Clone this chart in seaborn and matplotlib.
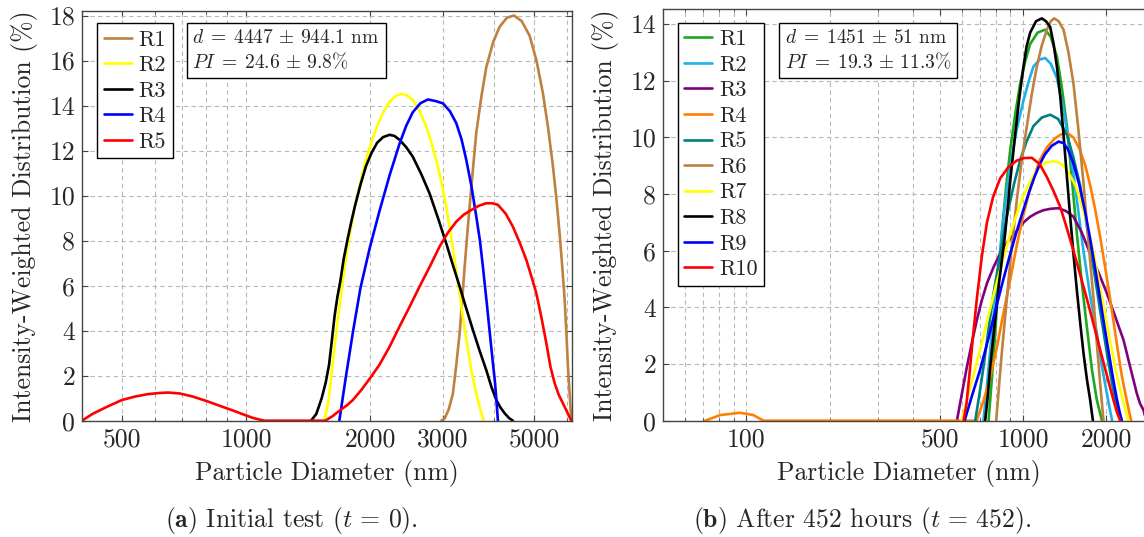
import matplotlib
matplotlib.use("Agg")
import matplotlib.pyplot as plt
import seaborn as sns
from matplotlib.ticker import FixedLocator, FixedFormatter, NullFormatter

# ---- data: initial test (t = 0) ----
t0_labels = ["R1", "R2", "R3", "R4", "R5"]
t0_colors = ["#BF8040", "#FFFF00", "#000000", "#0000FF", "#FF0000"]

t0_r1_d = [2974, 3030, 3100, 3173, 3230, 3295, 3340, 3387, 3435, 3483, 3550, 3616, 3720, 3823, 3970, 4119,
           4290, 4461, 4660, 4870, 5060, 5245, 5400, 5548, 5660, 5758, 5840, 5921, 5980, 6032, 6090, 6146]
t0_r1_v = [0, 0.1, 0.5, 1.2, 2.4, 3.9, 5.3, 6.8, 8.2, 9.5, 11.2, 12.8, 14.4, 15.7, 16.8, 17.5,
           17.9, 18.0, 17.75, 17.1, 16.0, 14.55, 13.0, 11.3, 9.8, 8.3, 6.9, 5.4, 3.9, 2.4, 1.2, 0]
t0_r2_d = [1543, 1565, 1585, 1625, 1673, 1710, 1744, 1790, 1837, 1895, 1954, 2015, 2079, 2145, 2212, 2295,
           2378, 2455, 2536, 2635, 2734, 2810, 2891, 2975, 3057, 3130, 3203, 3280, 3354, 3435, 3516, 3600,
           3682, 3767]
t0_r2_v = [0, 0.4, 0.92, 2.7, 4.69, 6.0, 7.19, 8.4, 9.55, 10.6, 11.6, 12.4, 13.1, 13.65, 14.1, 14.4,
           14.52, 14.45, 14.25, 13.75, 13.07, 12.4, 11.59, 10.6, 9.51, 8.35, 7.14, 5.9, 4.62, 3.4, 2.25, 1.35,
           0.62, 0]
t0_r3_d = [1437, 1480, 1525, 1560, 1589, 1615, 1640, 1665, 1691, 1725, 1763, 1800, 1837, 1895, 1954, 2015,
           2079, 2150, 2228, 2290, 2355, 2445, 2536, 2660, 2785, 2920, 3057, 3175, 3295, 3420, 3548, 3685,
           3823, 3935, 4043, 4140, 4236, 4340, 4436]
t0_r3_v = [0, 0.3, 1.0, 1.7, 2.48, 3.6, 4.69, 5.5, 6.16, 7.2, 8.08, 8.85, 9.55, 10.5, 11.32, 11.9,
           12.35, 12.6, 12.7, 12.65, 12.48, 12.15, 11.73, 10.95, 10.1, 9.0, 7.88, 6.9, 5.96, 4.98, 4.03, 3.1,
           2.25, 1.5, 0.92, 0.58, 0.33, 0.12, 0]
t0_r4_d = [1683, 1744, 1818, 1894, 1996, 2105, 2228, 2355, 2445, 2536, 2645, 2759, 2880, 3000, 3120, 3233,
           3330, 3419, 3520, 3616, 3690, 3752, 3830, 3900, 3960, 4016, 4050, 4080]
t0_r4_v = [0, 1.9, 4.0, 5.9, 7.7, 9.3, 10.9, 12.3, 13.1, 13.7, 14.1, 14.27, 14.2, 14.1, 13.75, 13.22,
           12.5, 11.59, 10.4, 9.07, 8.0, 6.84, 5.3, 3.88, 2.7, 1.66, 0.8, 0]
t0_r5_d = [400, 424, 460, 500, 540, 578, 615, 647, 690, 740, 800, 873, 930, 988, 1040, 1107, 1555, 1620,
           1700, 1760, 1815, 1900, 2000, 2105, 2230, 2355, 2490, 2634, 2790, 2945, 3085, 3233, 3370, 3516,
           3670, 3823, 3950, 4080, 4260, 4436, 4610, 4782, 4920, 5056, 5200, 5347, 5470, 5602, 5730, 5866,
           6000, 6146]
t0_r5_v = [0, 0.3, 0.62, 0.92, 1.08, 1.18, 1.23, 1.25, 1.21, 1.08, 0.88, 0.63, 0.45, 0.27, 0.12, 0, 0, 0.2,
           0.5, 0.7, 0.92, 1.35, 1.9, 2.48, 3.3, 4.18, 5.05, 5.96, 6.85, 7.73, 8.35, 8.84, 9.15, 9.36,
           9.55, 9.66, 9.66, 9.59, 9.2, 8.62, 7.9, 7.14, 6.4, 5.66, 4.6, 3.44, 2.4, 1.66, 1.15, 0.77,
           0.4, 0]

# ---- data: after 452 hours ----
t452_labels = ["R1", "R2", "R3", "R4", "R5", "R6", "R7", "R8", "R9", "R10"]
t452_colors = ["#1FA71F", "#1EB0E6", "#800080", "#FF8000", "#008080",
               "#BF8040", "#FFFF00", "#000000", "#0000FF", "#FF0000"]

t452_r1_d = [751, 772, 794, 815, 838, 868, 899, 937, 977, 1020, 1062, 1130, 1203, 1260, 1326, 1380, 1441,
             1500, 1566, 1630, 1702, 1775, 1849, 1930]
t452_r1_v = [0, 1.5, 3.1, 4.9, 6.6, 8.2, 9.55, 10.8, 11.9, 12.7, 13.3, 13.7, 13.8, 13.55, 12.85, 11.8, 10.4,
             8.6, 6.6, 4.9, 3.3, 1.8, 0.73, 0]
t452_r2_d = [720, 745, 772, 800, 827, 860, 899, 950, 1004, 1050, 1091, 1150, 1203, 1260, 1326, 1400, 1481,
             1565, 1654, 1750, 1849, 1930, 2010, 2060, 2100]
t452_r2_v = [0, 1.5, 3.1, 4.6, 6.0, 7.6, 9.0, 10.3, 11.3, 12.0, 12.5, 12.75, 12.8, 12.6, 12.1, 11.0, 9.55,
             7.8, 6.0, 4.4, 3.1, 1.9, 0.96, 0.4, 0]
t452_r3_d = [577, 600, 627, 655, 681, 710, 741, 785, 827, 885, 950, 1005, 1062, 1120, 1186, 1260, 1344, 1430,
             1522, 1630, 1749, 1880, 2010, 2150, 2308, 2440, 2579, 2650, 2725, 2790]
t452_r3_v = [0, 0.9, 1.9, 2.8, 3.55, 4.25, 4.85, 5.45, 5.9, 6.35, 6.7, 7.0, 7.2, 7.33, 7.43, 7.48, 7.5, 7.4,
             7.2, 6.65, 5.9, 5.2, 4.5, 3.7, 2.85, 1.9, 0.96, 0.6, 0.38, 0]
t452_r4_d = [71, 80.6, 95, 106, 111, 115.5, 680, 720, 760, 805, 850, 900, 950, 1000, 1050, 1100, 1150, 1220,
             1300, 1370, 1450, 1520, 1600, 1680, 1750, 1820, 1900, 1975, 2050, 2125, 2200, 2275, 2350, 2410,
             2460]
t452_r4_v = [0, 0.2, 0.28, 0.2, 0.09, 0, 0, 0.7, 1.5, 2.6, 3.8, 5.0, 6.2, 7.2, 8.0, 8.65, 9.2, 9.65,
             9.95, 10.1, 10.15, 10.0, 9.6, 9.0, 8.3, 7.5, 6.5, 5.5, 4.5, 3.5, 2.5, 1.6, 0.9, 0.4,
             0]
t452_r5_d = [672, 695, 720, 750, 783, 828, 874, 925, 977, 1030, 1091, 1170, 1254, 1340, 1441, 1520, 1609,
             1700, 1798, 1900, 2010, 2100, 2184, 2276]
t452_r5_v = [0, 0.9, 1.9, 3.2, 4.5, 5.9, 7.2, 8.3, 9.2, 9.85, 10.4, 10.7, 10.8, 10.65, 10.1, 9.3, 8.3,
             6.9, 5.4, 3.9, 2.4, 1.3, 0.5, 0]
t452_r6_d = [800, 835, 874, 910, 950, 990, 1033, 1075, 1122, 1170, 1220, 1260, 1296, 1345, 1401, 1460, 1522,
             1585, 1654, 1725, 1798, 1850, 1901, 1930, 1954]
t452_r6_v = [0, 2.2, 4.3, 6.1, 7.8, 9.2, 10.4, 11.5, 12.5, 13.25, 13.8, 14.1, 14.2, 14.1, 13.8, 13.0, 11.9,
             10.3, 8.4, 6.3, 4.3, 2.7, 1.3, 0.6, 0]
t452_r7_d = [601, 650, 700, 750, 800, 850, 900, 950, 1000, 1050, 1100, 1150, 1200, 1289, 1340, 1400, 1470,
             1550, 1620, 1700, 1775, 1850, 1925, 2000, 2075, 2150, 2225, 2300, 2350, 2405]
t452_r7_v = [0, 1.3, 2.5, 3.7, 4.8, 5.75, 6.6, 7.3, 7.9, 8.35, 8.7, 8.95, 9.1, 9.16, 9.12, 9.0, 8.7,
             8.3, 7.7, 7.0, 6.2, 5.3, 4.4, 3.5, 2.7, 1.9, 1.25, 0.7, 0.35, 0]
t452_r8_d = [730, 745, 761, 790, 820, 845, 862, 900, 937, 970, 1004, 1030, 1062, 1115, 1170, 1210, 1254, 1290,
             1326, 1365, 1401, 1440, 1481, 1525, 1566, 1610, 1654, 1700, 1749, 1770, 1790]
t452_r8_v = [0, 0.8, 1.9, 3.4, 4.9, 5.9, 6.6, 8.5, 10.1, 11.4, 12.5, 13.2, 13.7, 14.1, 14.2, 14.1, 13.9, 13.3,
             12.5, 11.4, 10.1, 8.65, 7.2, 5.8, 4.6, 3.45, 2.4, 1.5, 0.73, 0.35, 0]
t452_r9_d = [615, 655, 700, 750, 800, 850, 900, 950, 1000, 1050, 1100, 1150, 1200, 1270, 1344, 1400, 1450,
             1525, 1600, 1675, 1750, 1825, 1900, 1975, 2050, 2115, 2180, 2230, 2276]
t452_r9_v = [0, 0.9, 1.8, 2.9, 4.0, 5.0, 5.9, 6.7, 7.4, 8.05, 8.6, 9.05, 9.4, 9.7, 9.85, 9.8, 9.6,
             9.05, 8.3, 7.4, 6.4, 5.35, 4.3, 3.25, 2.3, 1.5, 0.8, 0.35, 0]
t452_r10_d = [610, 625, 640, 660, 681, 710, 741, 780, 827, 885, 950, 1010, 1076, 1150, 1220, 1290, 1363, 1440,
              1522, 1610, 1702, 1800, 1901, 2010, 2123, 2185, 2245]
t452_r10_v = [0, 0.6, 1.6, 3.0, 4.3, 5.8, 7.0, 7.9, 8.55, 8.95, 9.18, 9.27, 9.28, 9.05, 8.6, 8.1, 7.55, 6.8,
              6.0, 5.15, 4.3, 3.4, 2.5, 1.6, 0.73, 0.3, 0]

t0_series = [(t0_r1_d, t0_r1_v), (t0_r2_d, t0_r2_v), (t0_r3_d, t0_r3_v), (t0_r4_d, t0_r4_v), (t0_r5_d, t0_r5_v)]
t452_series = [(t452_r1_d, t452_r1_v), (t452_r2_d, t452_r2_v), (t452_r3_d, t452_r3_v), (t452_r4_d, t452_r4_v),
               (t452_r5_d, t452_r5_v), (t452_r6_d, t452_r6_v), (t452_r7_d, t452_r7_v), (t452_r8_d, t452_r8_v),
               (t452_r9_d, t452_r9_v), (t452_r10_d, t452_r10_v)]

# ---- style ----
sns.set_theme(style="ticks")
plt.rcParams["font.family"] = ["cmr10", "DejaVu Serif"]
plt.rcParams["mathtext.fontset"] = "cm"
plt.rcParams["axes.formatter.use_mathtext"] = True
plt.rcParams["axes.unicode_minus"] = False

TICK_FS = 18.5
LEG_FS = 16
BOX_FS = 14


def style_axis(ax, xlim, ylim, xmajor, xminor, yticks):
    ax.set_xscale("log")
    ax.set_xlim(*xlim)
    ax.set_ylim(*ylim)
    ax.xaxis.set_major_locator(FixedLocator(xmajor))
    ax.xaxis.set_major_formatter(FixedFormatter([str(x) for x in xmajor]))
    ax.xaxis.set_minor_locator(FixedLocator(xminor))
    ax.xaxis.set_minor_formatter(NullFormatter())
    ax.set_yticks(yticks)
    ax.set_yticklabels([str(y) for y in yticks])
    ax.grid(True, which="both", axis="x", color="#b8b8b8", ls=(0, (4, 3)), lw=0.8)
    ax.grid(True, which="major", axis="y", color="#b8b8b8", ls=(0, (4, 3)), lw=0.8)
    ax.tick_params(which="both", direction="in", top=True, right=True, color="#444444")
    ax.tick_params(which="major", length=4.5, width=0.8, labelsize=TICK_FS, pad=5)
    ax.tick_params(which="minor", length=2.5, width=0.6)
    for s in ax.spines.values():
        s.set_color("#444444")
        s.set_linewidth(1.0)
    ax.set_xlabel("Particle Diameter (nm)", fontsize=TICK_FS, labelpad=6)
    ax.set_ylabel("Intensity-Weighted Distribution (%)", fontsize=TICK_FS, labelpad=8)


fig = plt.figure(figsize=(11.44, 5.37), dpi=100)
ax1 = fig.add_axes([82 / 1144, 1 - 420.7 / 537, 489.7 / 1144, 409.7 / 537])
ax2 = fig.add_axes([663 / 1144, 1 - 420.7 / 537, 492 / 1144, 411.4 / 537])

for (d, v), lab, col in zip(t0_series, t0_labels, t0_colors):
    sns.lineplot(x=d, y=v, ax=ax1, color=col, lw=1.9, label=lab, estimator=None, sort=False)
for (d, v), lab, col in zip(t452_series, t452_labels, t452_colors):
    sns.lineplot(x=d, y=v, ax=ax2, color=col, lw=1.9, label=lab, estimator=None, sort=False)

style_axis(ax1, (400, 6160), (0, 18.2), [500, 1000, 2000, 3000, 5000],
           [600, 700, 800, 900, 4000, 6000], list(range(0, 19, 2)))
style_axis(ax2, (50, 3000), (0, 14.52), [100, 500, 1000, 2000],
           [60, 70, 80, 90, 200, 300, 400, 600, 700, 800, 900, 3000], list(range(0, 15, 2)))

for ax, anchor in [(ax1, (0.031, 0.970)), (ax2, (0.030, 0.967))]:
    leg = ax.legend(loc="upper left", bbox_to_anchor=anchor, borderaxespad=0, fancybox=False,
                    edgecolor="black", framealpha=1, fontsize=LEG_FS, handlelength=1.26,
                    handletextpad=0.3, labelspacing=0.27, borderpad=0.3)
    leg.get_frame().set_linewidth(1.0)

box = dict(boxstyle="square,pad=0.3", fc="white", ec="black", lw=1.0)
ax1.text(0.2255, 0.957, "$d\\;=\\;4447\\,\\pm\\,944.1$ nm\n$PI\\;=\\;24.6\\,\\pm\\,9.8\\%$",
         transform=ax1.transAxes, ha="left", va="top", fontsize=BOX_FS, linespacing=1.3, bbox=box)
ax2.text(0.248, 0.953, "$d\\;=\\;1451\\,\\pm\\,51$ nm\n$PI\\;=\\;19.3\\,\\pm\\,11.3\\%$",
         transform=ax2.transAxes, ha="left", va="top", fontsize=BOX_FS, linespacing=1.3, bbox=box)

fig.text(291 / 1144, 1 - 521 / 537, "$\\mathbf{(a)}$ Initial test ($t\\,=\\,0$).", ha="center", va="center",
         fontsize=TICK_FS)
fig.text(862 / 1144, 1 - 521 / 537, "$\\mathbf{(b)}$ After 452 hours ($t\\,=\\,452$).", ha="center",
         va="center", fontsize=TICK_FS)

fig.savefig("out.png", dpi=100)
